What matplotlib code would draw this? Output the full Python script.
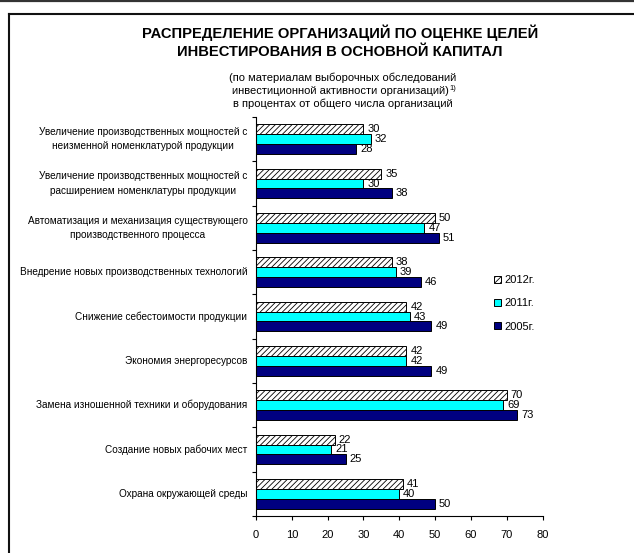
import matplotlib
matplotlib.use("Agg")
import matplotlib.pyplot as plt
from matplotlib.lines import Line2D
from matplotlib.patches import Patch
import numpy as np

plt.rcParams['font.family'] = ['Liberation Sans', 'DejaVu Sans']
plt.rcParams['hatch.linewidth'] = 0.6

categories = [
    "Увеличение производственных мощностей с\nнеизменной номенклатурой продукции",
    "Увеличение производственных мощностей с\nрасширением номенклатуры продукции",
    "Автоматизация и механизация существующего\nпроизводственного процесса",
    "Внедрение новых производственных технологий",
    "Снижение себестоимости продукции",
    "Экономия энергоресурсов",
    "Замена изношенной техники и оборудования",
    "Создание новых рабочих мест",
    "Охрана окружающей среды",
]
v2012 = [30, 35, 50, 38, 42, 42, 70, 22, 41]
v2011 = [32, 30, 47, 39, 43, 42, 69, 21, 40]
v2005 = [28, 38, 51, 46, 49, 49, 73, 25, 50]
series_labels = ["2012г.", "2011г.", "2005г."]
xticks = [0, 10, 20, 30, 40, 50, 60, 70, 80]

W, H = 634, 553
fig = plt.figure(figsize=(W / 100, H / 100), dpi=100)
fig.patch.set_facecolor('white')

# frame lines
fig.add_artist(Line2D([0, 1], [1 - 1 / H, 1 - 1 / H], color='#333333', lw=1.6, transform=fig.transFigure))
fig.add_artist(Line2D([8.5 / W, 1], [1 - 13.5 / H, 1 - 13.5 / H], color='#111111', lw=1.5, transform=fig.transFigure))
fig.add_artist(Line2D([8.5 / W, 8.5 / W], [0, 1 - 13.5 / H], color='#111111', lw=1.5, transform=fig.transFigure))

ax = fig.add_axes([256 / W, 1 - 516 / H, (542.5 - 256) / W, (516 - 117) / H])

y = np.arange(len(categories))
h = 0.222
b1 = ax.barh(y - h, v2012, height=h, color='white', edgecolor='black', hatch='//////', linewidth=0.7, label=series_labels[0])
b2 = ax.barh(y, v2011, height=h, color='#00FFFF', edgecolor='black', linewidth=0.7, label=series_labels[1])
b3 = ax.barh(y + h, v2005, height=h, color='#000080', edgecolor='black', linewidth=0.7, label=series_labels[2])

for bars, vals in ((b1, v2012), (b2, v2011), (b3, v2005)):
    for bar, v in zip(bars, vals):
        ax.text(v + 1.1, bar.get_y() + bar.get_height() / 2, str(v), va='center', ha='left', fontsize=8)

ax.set_xlim(0, 80)
ax.set_ylim(len(categories) - 0.5, -0.5)
ax.set_xticks(xticks)
ax.set_xticklabels([str(t) for t in xticks], fontsize=8)
ax.set_yticks(np.arange(-0.5, len(categories), 1.0))
ax.set_yticklabels([])
ax.tick_params(axis='both', length=3, width=0.8, direction='out')
ax.tick_params(axis='x', pad=7)
for s in ('top', 'right'):
    ax.spines[s].set_visible(False)
for s in ('left', 'bottom'):
    ax.spines[s].set_linewidth(0.8)

for i, c in enumerate(categories):
    ax.text(-2.4, i, c, ha='right', va='center', multialignment='center', fontsize=7.2, linespacing=1.55)

# titles
fig.text(340 / W, 1 - 33 / H, "РАСПРЕДЕЛЕНИЕ ОРГАНИЗАЦИЙ ПО ОЦЕНКЕ ЦЕЛЕЙ", ha='center', va='center', fontsize=10.6, fontweight='bold')
fig.text(340 / W, 1 - 52 / H, "ИНВЕСТИРОВАНИЯ В ОСНОВНОЙ КАПИТАЛ", ha='center', va='center', fontsize=10.6, fontweight='bold')
fig.text(343 / W, 1 - 78 / H, "(по материалам выборочных обследований", ha='center', va='center', fontsize=8)
t2 = fig.text(340 / W, 1 - 91 / H, "инвестиционной активности организаций)", ha='center', va='center', fontsize=8)
fig.text(343 / W, 1 - 104 / H, "в процентах от общего числа организаций", ha='center', va='center', fontsize=8)

fig.canvas.draw()
bb = t2.get_window_extent(renderer=fig.canvas.get_renderer())
fig.text((bb.x1 + 1.5) / W, (bb.y1 + 1) / H, "1)", ha='left', va='top', fontsize=5.5)

handles = [
    Patch(facecolor='white', edgecolor='black', hatch='//////', linewidth=0.7),
    Patch(facecolor='#00FFFF', edgecolor='black', linewidth=0.7),
    Patch(facecolor='#000080', edgecolor='black', linewidth=0.7),
]
fig.legend(handles, series_labels, loc='upper left', bbox_to_anchor=(484 / W, 1 - 265 / H), frameon=False,
           fontsize=8, handlelength=0.6, handleheight=0.6, labelspacing=1.2, handletextpad=0.35)

fig.savefig("out.png", dpi=100)
